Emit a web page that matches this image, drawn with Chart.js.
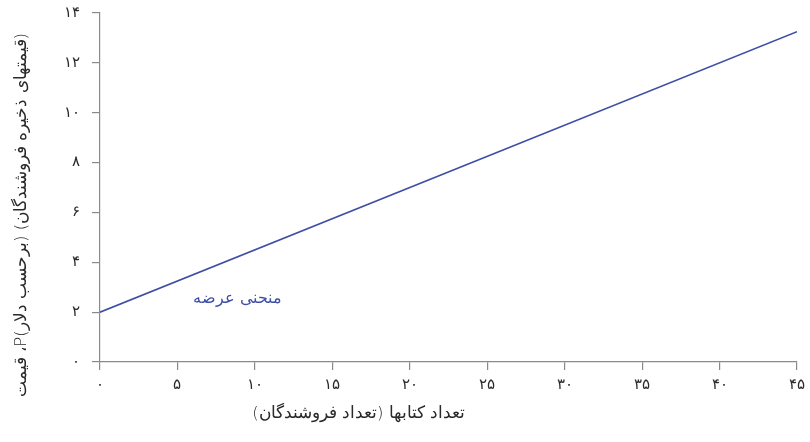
<!DOCTYPE html>
<html><head><meta charset="utf-8">
<script src="https://cdn.jsdelivr.net/npm/chart.js@4"></script>
<style>html,body{margin:0;padding:0;background:#fff}#w{width:810px;height:442px}</style>
</head><body><div id="w"><canvas id="c"></canvas></div>
<script>
const quantities = [0, 45];
const prices = [2, 13.25];
const xTicks = [0,5,10,15,20,25,30,35,40,45];
const yTicks = [0,2,4,6,8,10,12,14];
const seriesLabel = 'منحنی عرضه';
const xTitle = 'تعداد کتابها (تعداد فروشندگان)';
const yTitle = '(قیمتهای ذخیره فروشندگان) (برحسب دلار)P، قیمت';

const fa = n => String(n).replace(/\d/g, d => '۰۱۲۳۴۵۶۷۸۹'[d]);
const FONT = '"DejaVu Sans", sans-serif';
const AXIS = '#8a8a8a';
const LINE = '#3d4ea5';

const titles = {
  id: 'titles',
  afterDraw(chart) {
    const {ctx, scales} = chart;
    ctx.save();
    ctx.direction = 'rtl';
    ctx.textAlign = 'center';
    ctx.textBaseline = 'middle';
    ctx.fillStyle = '#2a2a2a';
    ctx.font = '300 16.5px ' + FONT;
    ctx.fillText(xTitle, scales.x.getPixelForValue(16.7), 414);
    ctx.save();
    ctx.translate(22, scales.y.getPixelForValue(5.9));
    ctx.rotate(-Math.PI/2);
    ctx.fillText(yTitle, 0, 0);
    ctx.restore();
    ctx.fillStyle = LINE;
    ctx.font = '300 16px ' + FONT;
    ctx.fillText(seriesLabel, scales.x.getPixelForValue(8.9), scales.y.getPixelForValue(2.53));
    ctx.restore();
  }
};

new Chart(document.getElementById('c'), {
  type: 'scatter',
  data: {
    datasets: [{
      label: seriesLabel,
      data: quantities.map((q, i) => ({x: q, y: prices[i]})),
      showLine: true,
      borderColor: LINE,
      borderWidth: 1.6,
      pointRadius: 0,
      fill: false
    }]
  },
  options: {
    responsive: true,
    maintainAspectRatio: false,
    animation: false,
    layout: {padding: {top: 13, right: 13, left: 0, bottom: 0}},
    plugins: {legend: {display: false}, tooltip: {enabled: false}},
    scales: {
      x: {
        type: 'linear', min: 0, max: 45,
        afterBuildTicks: s => { s.ticks = xTicks.map(v => ({value: v})); },
        afterFit: s => { s.height = 80; s.paddingLeft = 0; s.paddingRight = 0; },
        border: {display: true, color: AXIS, width: 1.2},
        grid: {display: true, drawOnChartArea: false, drawTicks: true, tickLength: 8, color: AXIS, lineWidth: 1.2},
        ticks: {callback: v => fa(v), color: '#2a2a2a', font: {family: FONT, size: 15, weight: '300'}, padding: 6, maxRotation: 0}
      },
      y: {
        type: 'linear', min: 0, max: 14,
        afterBuildTicks: s => { s.ticks = yTicks.map(v => ({value: v})); },
        afterFit: s => { s.width = 100; s.paddingTop = 0; s.paddingBottom = 0; },
        border: {display: true, color: AXIS, width: 1.2},
        grid: {display: true, drawOnChartArea: false, drawTicks: true, tickLength: 8, color: AXIS, lineWidth: 1.2},
        ticks: {callback: v => fa(v), color: '#2a2a2a', font: {family: FONT, size: 15, weight: '300'}, padding: 12}
      }
    }
  },
  plugins: [titles]
});
</script></body></html>
